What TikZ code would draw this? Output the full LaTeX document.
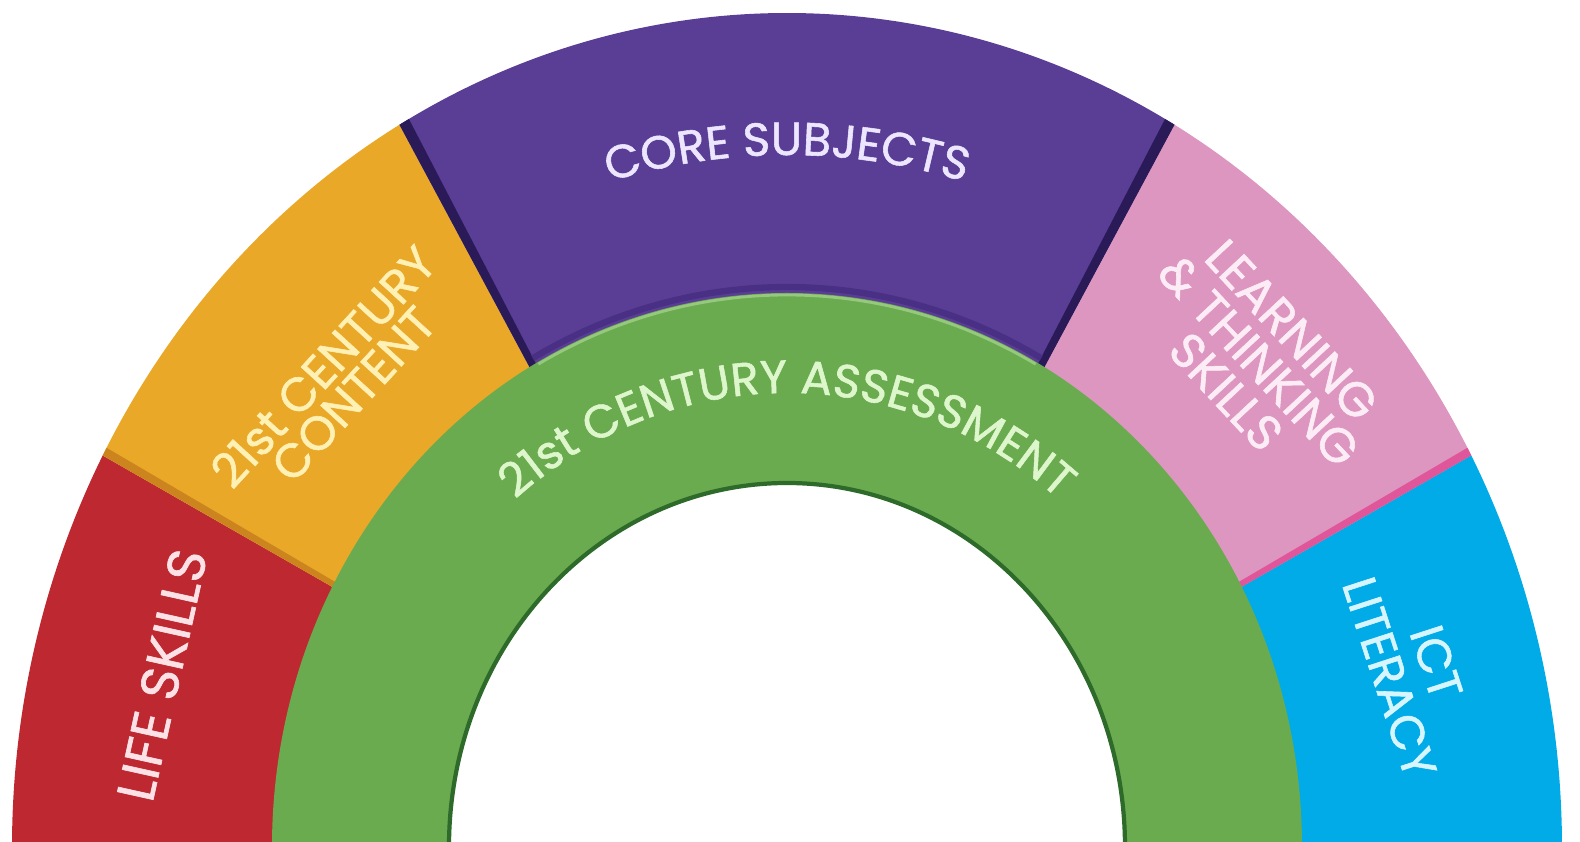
\documentclass[tikz,border=0pt]{standalone}
\usepackage{fontspec}
\setmainfont{Poppins}[FakeBold=1.2]
\usetikzlibrary{decorations.text}
\definecolor{lifered}{RGB}{190,40,48}
\definecolor{contentorange}{RGB}{234,168,41}
\definecolor{contentedge}{RGB}{204,132,30}
\definecolor{corepurple}{RGB}{90,62,150}
\definecolor{coreedge}{RGB}{42,26,88}
\definecolor{coreshade}{RGB}{74,48,132}
\definecolor{thinkpink}{RGB}{221,150,192}
\definecolor{thinkedge}{RGB}{224,86,154}
\definecolor{ictblue}{RGB}{0,171,232}
\definecolor{assessgreen}{RGB}{106,171,80}
\definecolor{greendark}{RGB}{46,106,42}
\definecolor{greenlight}{RGB}{150,200,125}
\definecolor{lifelbl}{RGB}{252,226,230}
\definecolor{contentlbl}{RGB}{255,240,180}
\definecolor{corelbl}{RGB}{236,230,255}
\definecolor{thinklbl}{RGB}{252,236,246}
\definecolor{ictlbl}{RGB}{215,245,255}
\definecolor{assesslbl}{RGB}{222,246,204}
\begin{document}
\begin{tikzpicture}[x=0.1mm,y=0.1mm,
	lbl/.style={align=center,inner sep=0pt},
	]
		\clip (-787,5) rectangle (793,847);
		% outer ring, one wedge per area
		\fill[lifered] (0,0) -- (152:775 and 834) arc[start angle=152,end angle=185,x radius=775,y radius=834] -- cycle;
		\fill[contentorange] (0,0) -- (120:775 and 834) arc[start angle=120,end angle=152,x radius=775,y radius=834] -- cycle;
		\fill[corepurple] (0,0) -- (60:775 and 834) arc[start angle=60,end angle=120,x radius=775,y radius=834] -- cycle;
		\fill[thinkpink] (0,0) -- (28:775 and 834) arc[start angle=28,end angle=60,x radius=775,y radius=834] -- cycle;
		\fill[ictblue] (0,0) -- (-5:775 and 834) arc[start angle=-5,end angle=28,x radius=775,y radius=834] -- cycle;
		% shaded edges
		\fill[contentedge] (0,0) -- (151.4:775 and 834) arc[start angle=151.4,end angle=152,x radius=775,y radius=834] -- cycle;
		\fill[coreedge] (0,0) -- (119.2:775 and 834) arc[start angle=119.2,end angle=120,x radius=775,y radius=834] -- cycle;
		\fill[coreedge] (0,0) -- (60:775 and 834) arc[start angle=60,end angle=60.8,x radius=775,y radius=834] -- cycle;
		\fill[thinkedge] (0,0) -- (28:775 and 834) arc[start angle=28,end angle=28.6,x radius=775,y radius=834] -- cycle;
		\draw[coreshade,line width=1.8pt] (60.8:521 and 560) arc[start angle=60.8,end angle=119.2,x radius=521,y radius=560];
		% inner ring
		\fill[assessgreen] (0,0) ellipse[x radius=515,y radius=554];
		\draw[greenlight,line width=0.8pt] (61:513 and 552) arc[start angle=61,end angle=119,x radius=513,y radius=552];
		\fill[white] (0,0) ellipse[x radius=337.5,y radius=363];
		\draw[greendark,line width=1.2pt] (0,0) ellipse[x radius=338,y radius=364];
		% labels
		\path[decorate,decoration={text along path,text align=center,text color=corelbl,
			text={|\fontsize{13.2}{14}\selectfont|CORE SUBJECTS}}]
			(115:645 and 692) arc[start angle=115,end angle=65,x radius=645,y radius=692];
		\path[decorate,decoration={text along path,text align=center,text color=assesslbl,
			text={|\fontsize{13.2}{14}\selectfont|21st CENTURY ASSESSMENT}}]
			(140:422 and 454) arc[start angle=140,end angle=40,x radius=422,y radius=454];
		\node[lbl,rotate=77.5,text=lifelbl,font=\fontsize{15}{16}\selectfont] (life) at (-625,172) {LIFE SKILLS};
		\node[lbl,rotate=47.5,text=contentlbl,font=\fontsize{13.5}{11.5}\selectfont] (content) at (-449,467) {21st CENTURY\\CONTENT};
		\node[lbl,rotate=-47,text=thinklbl,font=\fontsize{13.8}{12.8}\selectfont] (think) at (472,486) {LEARNING\\\& THINKING\\SKILLS};
		\node[lbl,rotate=-72,text=ictlbl,font=\fontsize{13.5}{14}\selectfont] (ict) at (626,177) {ICT\\LITERACY};
\end{tikzpicture}
\end{document}
